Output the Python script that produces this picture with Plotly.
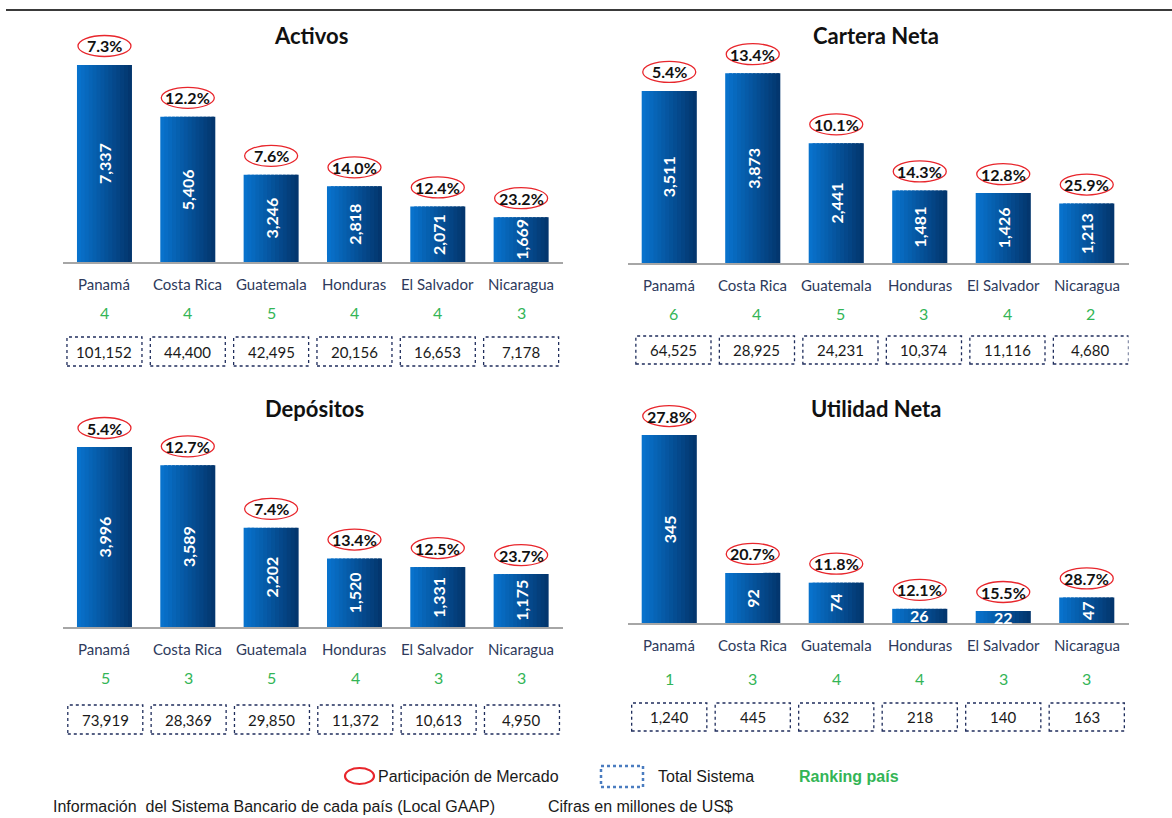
import plotly.graph_objects as go

# ---------------------------------------------------------------- data
countries = ["Panamá", "Costa Rica", "Guatemala", "Honduras", "El Salvador", "Nicaragua"]

activos = [7337, 5406, 3246, 2818, 2071, 1669]
activos_share = [7.3, 12.2, 7.6, 14.0, 12.4, 23.2]
activos_rank = [4, 4, 5, 4, 4, 3]
activos_total = [101152, 44400, 42495, 20156, 16653, 7178]

cartera = [3511, 3873, 2441, 1481, 1426, 1213]
cartera_share = [5.4, 13.4, 10.1, 14.3, 12.8, 25.9]
cartera_rank = [6, 4, 5, 3, 4, 2]
cartera_total = [64525, 28925, 24231, 10374, 11116, 4680]

depositos = [3996, 3589, 2202, 1520, 1331, 1175]
depositos_share = [5.4, 12.7, 7.4, 13.4, 12.5, 23.7]
depositos_rank = [5, 3, 5, 4, 3, 3]
depositos_total = [73919, 28369, 29850, 11372, 10613, 4950]

utilidad = [345, 92, 74, 26, 22, 47]
utilidad_share = [27.8, 20.7, 11.8, 12.1, 15.5, 28.7]
utilidad_rank = [1, 3, 4, 4, 3, 3]
utilidad_total = [1240, 445, 632, 218, 140, 163]

# ---------------------------------------------------------------- page geometry (pixels)
W, H = 1172, 818


def px_x(p):
    return p / W


def px_y(p):
    return 1 - p / H


panels = [
    dict(title="Activos", values=activos, share=activos_share, rank=activos_rank,
         total=activos_total, xdom=(62.8, 562.8), base=262, top=20, ymax=9012,
         title_xy=(311, 36), label_y=284, rank_y=312, box=(337, 366), box_shift=0.0),
    dict(title="Cartera Neta", values=cartera, share=cartera_share, rank=cartera_rank,
         total=cartera_total, xdom=(627.5, 1128.5), base=263, top=20, ymax=4957,
         title_xy=(876, 36), label_y=285, rank_y=313, box=(336, 364), box_shift=0.05),
    dict(title="Depósitos", values=depositos, share=depositos_share, rank=depositos_rank,
         total=depositos_total, xdom=(62.8, 562.8), base=627, top=392, ymax=5217,
         title_xy=(314, 408), label_y=649, rank_y=677, box=(705, 734), box_shift=0.01),
    dict(title="Utilidad Neta", values=utilidad, share=utilidad_share, rank=utilidad_rank,
         total=utilidad_total, xdom=(627.5, 1128.5), base=623, top=392, ymax=424,
         title_xy=(876, 408), label_y=645, rank_y=678, box=(703, 731), box_shift=0.0),
]

BAR_W = 0.66           # bar width in category units
N_SLICES = 14          # vertical slices used to paint the horizontal gradient
C_LEFT = (8, 114, 204)
C_RIGHT = (3, 54, 110)

FONT = "Lato"
LABEL_COLOR = "#2E3A5C"
RANK_COLOR = "#33B556"
RED = "#E8262C"
BOX_COLOR = "#1F2D5C"
SHARE_LIFT = 19        # pixels between bar top and the centre of the share ellipse

fig = go.Figure()
annotations = []
shapes = []
layout_axes = {}

xs = list(range(len(countries)))

for n, p in enumerate(panels, start=1):
    sfx = "" if n == 1 else str(n)
    xr, yr = "x" + sfx, "y" + sfx

    # gradient bars: stacked narrow slices from light to dark blue
    step = BAR_W / N_SLICES
    for k in range(N_SLICES):
        t = k / (N_SLICES - 1)
        col = tuple(round(C_LEFT[i] + (C_RIGHT[i] - C_LEFT[i]) * t) for i in range(3))
        off = -BAR_W / 2 + k * step
        wid = min(step * 1.7, BAR_W / 2 - off)
        fig.add_trace(go.Bar(
            x=xs, y=p["values"], xaxis=xr, yaxis=yr,
            offset=off, width=wid,
            marker=dict(color="rgb(%d,%d,%d)" % col, line=dict(width=0)),
            hoverinfo="skip", showlegend=False,
        ))

    x0, x1 = p["xdom"]
    layout_axes["xaxis" + sfx] = dict(
        domain=[px_x(x0), px_x(x1)], range=[-0.5, 5.5], anchor=yr,
        showticklabels=False, showgrid=False, zeroline=False, ticks="",
        showline=True, linecolor="#A6A6A6", linewidth=2, fixedrange=True,
    )
    layout_axes["yaxis" + sfx] = dict(
        domain=[px_y(p["base"]), px_y(p["top"])], range=[0, p["ymax"]], anchor=xr,
        visible=False, fixedrange=True,
    )

    px_per_unit = (p["base"] - p["top"]) / p["ymax"]

    # panel title
    tx, ty = p["title_xy"]
    annotations.append(dict(
        x=px_x(tx), y=px_y(ty), xref="paper", yref="paper", showarrow=False,
        text="<b>%s</b>" % p["title"], font=dict(family=FONT, size=22, color="#111111"),
        xanchor="center", yanchor="middle",
    ))

    for i, (v, s, r, tot) in enumerate(zip(p["values"], p["share"], p["rank"], p["total"])):
        # value inside the bar
        tall = v * px_per_unit >= 20
        annotations.append(dict(
            x=i, y=v / 2, xref=xr, yref=yr, showarrow=False,
            text="<b>%s</b>" % format(v, ","), textangle=-90 if tall else 0,
            font=dict(family=FONT, size=16, color="white"),
            xanchor="center", yanchor="middle",
        ))
        # market share in a red ellipse above the bar
        annotations.append(dict(
            x=i, y=v, xref=xr, yref=yr, showarrow=False, yshift=SHARE_LIFT,
            text="<b>%.1f%%</b>" % s, font=dict(family=FONT, size=16, color="#111111"),
            xanchor="center", yanchor="middle",
        ))
        shapes.append(dict(
            type="circle", xref=xr, yref=yr, xsizemode="pixel", ysizemode="pixel",
            xanchor=i, yanchor=v, x0=-26.5, x1=26.5,
            y0=SHARE_LIFT - 10.5, y1=SHARE_LIFT + 10.5,
            line=dict(color=RED, width=1.3), fillcolor="rgba(0,0,0,0)",
        ))
        # country name
        annotations.append(dict(
            x=i, y=px_y(p["label_y"]), xref=xr, yref="paper", showarrow=False,
            text=countries[i], font=dict(family=FONT, size=15, color=LABEL_COLOR),
            xanchor="center", yanchor="middle",
        ))
        # ranking
        annotations.append(dict(
            x=i + p["box_shift"], y=px_y(p["rank_y"]), xref=xr, yref="paper", showarrow=False,
            text=str(r), font=dict(family=FONT, size=16, color=RANK_COLOR),
            xanchor="center", yanchor="middle",
        ))
        # system total in a dotted box
        b0, b1 = p["box"]
        cx = i + p["box_shift"]
        shapes.append(dict(
            type="rect", xref=xr, yref="paper", x0=cx - 0.45, x1=cx + 0.45,
            y0=px_y(b1), y1=px_y(b0),
            line=dict(color=BOX_COLOR, width=1.3, dash="dot"), fillcolor="rgba(0,0,0,0)",
        ))
        annotations.append(dict(
            x=cx, y=px_y((b0 + b1) / 2), xref=xr, yref="paper", showarrow=False,
            text=format(tot, ","), font=dict(family=FONT, size=15, color="#1A1A1A"),
            xanchor="center", yanchor="middle",
        ))

# rule across the top of the page
shapes.append(dict(
    type="line", xref="paper", yref="paper", x0=px_x(6), x1=1, y0=px_y(10), y1=px_y(10),
    line=dict(color="#3A3A3A", width=2),
))

# legend row
SANS = "Liberation Sans, Arial"
NOTE_SIZE = 16
shapes.append(dict(
    type="circle", xref="paper", yref="paper",
    x0=px_x(345), x1=px_x(374), y0=px_y(784), y1=px_y(768),
    line=dict(color=RED, width=2.2),
))
annotations.append(dict(
    x=px_x(376), y=px_y(776), xref="paper", yref="paper", showarrow=False,
    text="Participación de Mercado", font=dict(family=SANS, size=NOTE_SIZE, color="#1A1A1A"),
    xanchor="left", yanchor="middle",
))
shapes.append(dict(
    type="rect", xref="paper", yref="paper",
    x0=px_x(601), x1=px_x(643), y0=px_y(787), y1=px_y(766),
    line=dict(color="#4A7CC0", width=2.5, dash="dot"),
))
annotations.append(dict(
    x=px_x(656), y=px_y(776), xref="paper", yref="paper", showarrow=False,
    text="Total Sistema", font=dict(family=SANS, size=NOTE_SIZE, color="#1A1A1A"),
    xanchor="left", yanchor="middle",
))
annotations.append(dict(
    x=px_x(797), y=px_y(776), xref="paper", yref="paper", showarrow=False,
    text="<b>Ranking país</b>", font=dict(family=SANS, size=NOTE_SIZE, color=RANK_COLOR),
    xanchor="left", yanchor="middle",
))

# footer notes
annotations.append(dict(
    x=px_x(51), y=px_y(806), xref="paper", yref="paper", showarrow=False,
    text="Información  del Sistema Bancario de cada país (Local GAAP)",
    font=dict(family=SANS, size=NOTE_SIZE, color="#1A1A1A"), xanchor="left", yanchor="middle",
))
annotations.append(dict(
    x=px_x(546), y=px_y(806), xref="paper", yref="paper", showarrow=False,
    text="Cifras en millones de US$",
    font=dict(family=SANS, size=NOTE_SIZE, color="#1A1A1A"), xanchor="left", yanchor="middle",
))

fig.update_layout(
    width=W, height=H, autosize=False,
    margin=dict(l=0, r=0, t=0, b=0, pad=0),
    paper_bgcolor="white", plot_bgcolor="rgba(0,0,0,0)",
    barmode="overlay", showlegend=False,
    annotations=annotations, shapes=shapes,
    **layout_axes,
)

fig.write_html("out.html")
